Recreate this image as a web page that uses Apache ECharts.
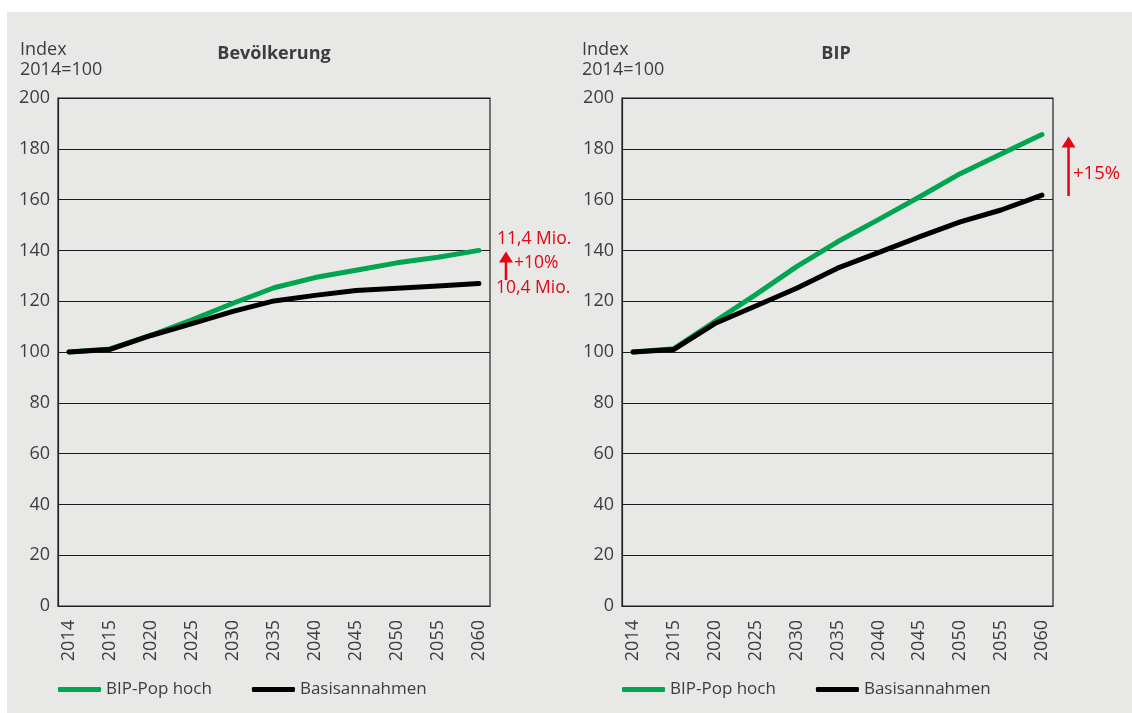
<!DOCTYPE html>
<html>
<head>
<meta charset="utf-8">
<script src="https://cdn.jsdelivr.net/npm/echarts@6/dist/echarts.min.js"></script>
<style>
  html, body { margin: 0; padding: 0; background: #fff; }
  #chart { width: 1132px; height: 713px; }
</style>
</head>
<body>
<div id="chart"></div>
<script>
// Jahre (gleichmaessig als Kategorien dargestellt)
var years = ['2014', '2015', '2020', '2025', '2030', '2035', '2040', '2045', '2050', '2055', '2060'];

// Bevoelkerung, Index 2014=100
var popHoch = [100, 101.2, 106.6, 112.7, 119.2, 125.3, 129.3, 132.2, 135.1, 137.3, 140];
var popBasis = [100, 101, 106.5, 111.2, 116, 120.1, 122.3, 124.2, 125.1, 126, 127];

// BIP, Index 2014=100
var bipHoch = [100, 101.3, 112, 122.6, 133.6, 143.4, 152.1, 161, 170.2, 178, 185.6];
var bipBasis = [100, 101, 111.2, 118.1, 125.1, 133, 139.1, 145.3, 151.2, 155.9, 161.8];

var yTicks = [0, 20, 40, 60, 80, 100, 120, 140, 160, 180, 200];

// Pfeile rechts neben dem Plot: [x-Index, von, bis] in Datenkoordinaten
var arrowPop = [10.66, 128.3, 139.6];
var arrowBip = [10.65, 161.4, 184.8];

var GREEN = '#00a54f';
var RED = '#e30613';
var TXT = '#3a3e41';
var FONT = '"Open Sans", "Noto Sans", sans-serif';

function pairs(arr) {
  return arr.map(function (v, i) { return [i, v]; });
}

var chart = echarts.init(document.getElementById('chart'), null, { renderer: 'canvas' });

function xAxisFor(gi) {
  return {
    type: 'value', gridIndex: gi, min: -0.27, max: 10.27,
    axisLine: { show: true, onZero: false, lineStyle: { color: '#222', width: 1.2 } },
    axisTick: { show: false },
    splitLine: { show: false },
    axisLabel: {
      customValues: years.map(function (y, i) { return i; }),
      formatter: function (v) { return years[Math.round(v)]; },
      rotate: 90, margin: 14, fontSize: 18, color: TXT, fontFamily: FONT
    }
  };
}
function yAxisFor(gi) {
  return {
    type: 'value', gridIndex: gi, min: yTicks[0], max: yTicks[yTicks.length - 1], interval: 20,
    axisLine: { show: true, onZero: false, lineStyle: { color: '#222', width: 1.2 } },
    axisTick: { show: false },
    splitLine: { show: true, lineStyle: { color: '#1a1a1a', width: 1 } },
    axisLabel: { margin: 8, fontSize: 18, color: TXT, fontFamily: FONT }
  };
}

function lineSeries(name, data, color, gi) {
  return {
    name: name, type: 'line', xAxisIndex: gi, yAxisIndex: gi,
    data: pairs(data), symbol: 'none', smooth: false,
    lineStyle: { color: color, width: 5, cap: 'round', join: 'round' },
    itemStyle: { color: color },
    z: name === 'Basisannahmen' ? 4 : 3
  };
}

var option = {
  animation: false,
  textStyle: { fontFamily: FONT },
  title: [
    { text: 'Bevölkerung', left: 269, top: 40, textAlign: 'center',
      textStyle: { fontSize: 18, fontWeight: 'bold', color: TXT, fontFamily: FONT } },
    { text: 'BIP', left: 831, top: 40, textAlign: 'center',
      textStyle: { fontSize: 18, fontWeight: 'bold', color: TXT, fontFamily: FONT } }
  ],
  legend: [
    { left: 58, top: 681, padding: 0, itemWidth: 43, itemHeight: 5, itemGap: 40, icon: 'roundRect',
      data: ['BIP-Pop hoch', 'Basisannahmen'], selectedMode: false,
      textStyle: { fontSize: 17, color: TXT, fontFamily: FONT } },
    { left: 622, top: 681, padding: 0, itemWidth: 43, itemHeight: 5, itemGap: 40, icon: 'roundRect',
      data: ['BIP-Pop hoch', 'Basisannahmen'], selectedMode: false,
      textStyle: { fontSize: 17, color: TXT, fontFamily: FONT } }
  ],
  grid: [
    { left: 58, top: 98, width: 432, height: 508, show: true, borderColor: '#222', borderWidth: 1.2, backgroundColor: 'transparent' },
    { left: 622, top: 98, width: 431, height: 508, show: true, borderColor: '#222', borderWidth: 1.2, backgroundColor: 'transparent' }
  ],
  xAxis: [xAxisFor(0), xAxisFor(1)],
  yAxis: [yAxisFor(0), yAxisFor(1)],
  series: [
    lineSeries('BIP-Pop hoch', popHoch, GREEN, 0),
    lineSeries('Basisannahmen', popBasis, '#000', 0),
    lineSeries('BIP-Pop hoch', bipHoch, GREEN, 1),
    lineSeries('Basisannahmen', bipBasis, '#000', 1)
  ]
};

chart.setOption(option);

// Pfeil aus Datenkoordinaten in Pixel umrechnen
function arrowGraphic(gi, a) {
  var p0 = chart.convertToPixel({ gridIndex: gi }, [a[0], a[1]]);
  var p1 = chart.convertToPixel({ gridIndex: gi }, [a[0], a[2]]);
  var headH = 11, headW = 7;
  return [
    { type: 'line', z: 10, shape: { x1: p0[0], y1: p0[1], x2: p1[0], y2: p1[1] + headH - 1 },
      style: { stroke: RED, lineWidth: 2.5 } },
    { type: 'polygon', z: 10, shape: { points: [[p1[0], p1[1]], [p1[0] - headW, p1[1] + headH], [p1[0] + headW, p1[1] + headH]] },
      style: { fill: RED } }
  ];
}

var graphics = [
  { type: 'rect', z: -10, shape: { x: 7, y: 12, width: 1125, height: 701 }, style: { fill: '#e8e8e6' } },
  { type: 'text', left: 20, top: 40, style: { text: 'Index\n2014=100', fontSize: 18, lineHeight: 20, fill: TXT, fontFamily: FONT } },
  { type: 'text', left: 582, top: 40, style: { text: 'Index\n2014=100', fontSize: 18, lineHeight: 20, fill: TXT, fontFamily: FONT } },
  { type: 'text', left: 497, top: 230, style: { text: '11,4 Mio.', fontSize: 17.5, fill: RED, fontFamily: FONT } },
  { type: 'text', left: 514, top: 254, style: { text: '+10%', fontSize: 17.5, fill: RED, fontFamily: FONT } },
  { type: 'text', left: 496, top: 279, style: { text: '10,4 Mio.', fontSize: 17.5, fill: RED, fontFamily: FONT } },
  { type: 'text', left: 1073, top: 164, style: { text: '+15%', fontSize: 18.5, fill: RED, fontFamily: FONT } }
].concat(arrowGraphic(0, arrowPop), arrowGraphic(1, arrowBip));

chart.setOption({ graphic: graphics });
</script>
</body>
</html>
